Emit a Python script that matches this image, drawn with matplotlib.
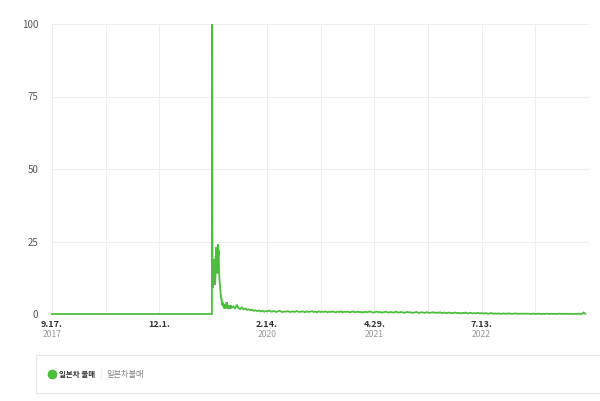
import matplotlib
matplotlib.use("Agg")
import matplotlib.pyplot as plt
import matplotlib.dates as mdates
from matplotlib.lines import Line2D
from matplotlib.patches import Rectangle
import pandas as pd

plt.rcParams['font.family'] = ['Noto Sans CJK KR', 'DejaVu Sans']

# ---------------- data ----------------
series_name = "일본차 불매"
series_keyword = "일본차불매"

# flat (no search) period before the spike
flat_dates = ["2017-09-17", "2019-07-04"]
flat_values = [0, 0]

# daily values around the spike, starting 2019-07-05
daily_start = "2019-07-05"
daily_values = [100, 14, 9, 12, 10, 15, 13, 18, 16, 19,
                12, 14, 10, 11, 16, 20, 18, 23, 19, 15,
                17, 14, 18, 21, 23, 24, 20, 22, 16, 14,
                12, 11, 10, 9, 8, 7, 6, 6, 5, 5,
                4, 4, 3, 4, 3, 3, 3, 3, 2, 3,
                3, 2, 3, 2, 3, 3, 2, 3, 3, 4,
                3, 4, 3, 2, 3, 2, 2, 3, 2, 3,
                2, 2, 3, 2, 2, 3]

# weekly values afterwards, starting 2019-09-23
weekly_start = "2019-09-23"
weekly_values = [
    2.2, 2.6, 1.8, 3.2, 2.0, 1.7, 2.3, 1.6, 1.9, 1.4, 1.6, 1.3, 1.5, 1.1, 1.3, 1.0,
    1.2, 0.9, 1.1, 0.8, 1.0, 0.9, 1.2, 0.8, 0.9, 1.0, 0.7, 0.9, 1.1, 0.8, 0.7, 0.9,
    0.8, 1.0, 0.7, 0.8, 0.9, 0.7, 1.0, 0.8, 0.7, 0.9, 0.8, 0.6, 0.9, 0.7, 0.8, 1.0,
    0.7, 0.8, 0.6, 0.9, 0.7, 0.8, 0.7, 0.9, 0.6, 0.8, 0.7, 0.9, 0.7, 0.6, 0.8, 0.7,
    0.9, 0.6, 0.8, 0.7,
    0.8, 0.6, 0.7, 0.9, 0.6, 0.7, 0.8, 0.6, 0.7, 0.5, 0.8, 0.6, 0.7, 0.9, 0.6, 0.5,
    0.7, 0.8, 0.6, 0.7, 0.5, 0.6, 0.8, 0.6, 0.5, 0.7, 0.6, 0.5, 0.8, 0.6, 0.5, 0.7,
    0.6, 0.4, 0.6, 0.7, 0.5, 0.6, 0.4, 0.5, 0.7, 0.5, 0.4, 0.6, 0.5, 0.4, 0.6, 0.5,
    0.4, 0.5, 0.6, 0.4,
    0.5, 0.4, 0.6, 0.3, 0.5, 0.4, 0.3, 0.5, 0.4, 0.3, 0.4, 0.5, 0.3, 0.4, 0.2, 0.4,
    0.3, 0.5, 0.2, 0.3, 0.4, 0.2, 0.3, 0.2, 0.4, 0.2, 0.3, 0.2, 0.2, 0.3, 0.1, 0.2,
    0.3, 0.1, 0.2, 0.1, 0.2, 0.1, 0.1, 0.2, 0.1, 0.1, 0.2, 0.1, 0.1, 0.1, 0.2, 0.1,
    0.1, 0.1, 0.1, 0.1,
    0.1, 0.1, 0.1, 0.0, 0.1, 0.1, 0.0, 0.1, 0.1, 0.0, 0.1, 0.0, 0.1, 0.1, 0.0, 0.1,
    0.0, 0.1, 0.0, 0.1, 0.1, 0.0, 0.1, 0.0, 0.1, 0.0, 0.1, 0.0, 0.0, 0.1, 0.0, 0.1,
    0.0, 0.0, 0.5, 0.1]

tick_dates = ["2017-09-17", "2018-12-01", "2020-02-14", "2021-04-29", "2022-07-13"]
tick_day_labels = ["9.17.", "12.1.", "2.14.", "4.29.", "7.13."]
tick_year_labels = ["2017", "", "2020", "2021", "2022"]
y_ticks = [0, 25, 50, 75, 100]

# ---------------- build series ----------------
dates = (list(pd.to_datetime(flat_dates))
         + list(pd.date_range(daily_start, periods=len(daily_values), freq="D"))
         + list(pd.date_range(weekly_start, periods=len(weekly_values), freq="7D")))
values = flat_values + daily_values + weekly_values

GREEN = "#4dbd3d"

fig = plt.figure(figsize=(6.0, 4.01), dpi=100)
W, H = 600, 401
ax = fig.add_axes([52 / W, 1 - 314 / H, (589 - 52) / W, (314 - 24) / H])

ax.plot(dates, values, color=GREEN, lw=1.3, solid_joinstyle="miter", zorder=3, clip_on=False)

x0 = pd.Timestamp("2017-09-17")
x1 = x0 + pd.Timedelta(days=2200)
ax.set_xlim(x0, x1)
ax.set_ylim(0, 100)

grid_dates = pd.date_range(x0, periods=11, freq="220D")
ax.set_xticks(grid_dates)
ax.set_xticklabels([])
ax.set_yticks(y_ticks)
ax.set_yticklabels([str(v) for v in y_ticks], fontsize=7, color="#555555")
ax.tick_params(axis="both", length=0)
ax.tick_params(axis="y", pad=10)
ax.grid(True, color="#eeeeee", lw=0.8)
for s in ax.spines.values():
    s.set_visible(False)
ax.axhline(0, color="#dddddd", lw=0.8, zorder=1)

trans = ax.get_xaxis_transform()
for d, dl, yl in zip(tick_dates, tick_day_labels, tick_year_labels):
    xd = mdates.date2num(pd.Timestamp(d))
    ax.text(xd, -0.019, dl, transform=trans, ha="center", va="top",
            fontsize=6.5, color="#333333", fontweight="bold")
    if yl:
        ax.text(xd, -0.054, yl, transform=trans, ha="center", va="top",
                fontsize=6.2, color="#999999")

# legend box
fig.add_artist(Rectangle((36 / W, 1 - 393 / H), (620 - 36) / W, (393 - 355) / H,
                         transform=fig.transFigure, facecolor="white",
                         edgecolor="#e6e6e6", lw=0.8))
fig.add_artist(Line2D([52 / W], [1 - 374 / H], marker="o", markersize=6,
                      color=GREEN, transform=fig.transFigure))
fig.text(59 / W, 1 - 374 / H, series_name, fontsize=5.4, fontweight="bold",
         color="#333333", va="center", ha="left")
fig.text(99 / W, 1 - 374 / H, "|", fontsize=6, color="#dddddd", va="center", ha="left")
fig.text(106 / W, 1 - 374 / H, series_keyword, fontsize=5.9, color="#888888",
         va="center", ha="left")

fig.savefig("out.png", dpi=100, facecolor="white")
